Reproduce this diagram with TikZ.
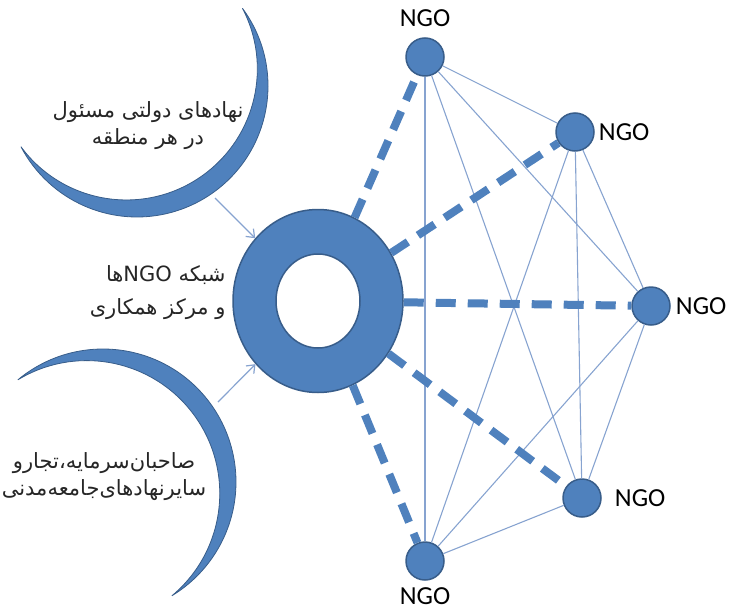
\documentclass[tikz,border=0pt]{standalone}
\usepackage{fontspec}
\usetikzlibrary{shapes.geometric,arrows.meta,positioning}
\newfontfamily\farsifont[Script=Arabic]{DejaVu Sans}
\newfontfamily\ngofont{Carlito}
\TeXXeTstate=1
\definecolor{ngoblue}{RGB}{79,129,189}
\definecolor{ngoedge}{RGB}{56,93,138}
\definecolor{linkblue}{RGB}{135,163,208}

\begin{document}
\begin{tikzpicture}[x=1pt,y=1pt,
	ngo/.style={circle,fill=ngoblue,draw=ngoedge,line width=1.5pt,minimum size=38pt,inner sep=0pt},
	ngolabel/.style={font={\ngofont\fontsize{26}{26}\selectfont},inner sep=1pt},
	hubring/.style={ellipse,fill=ngoblue,draw=ngoedge,line width=1.5pt,minimum width=170pt,minimum height=183pt,inner sep=0pt},
	moon/.style={fill=ngoblue,draw=ngoedge,line width=0.8pt},
	farsi/.style={font={\farsifont\fontsize{21}{27}\selectfont},align=center,text=black!85},
	thinlink/.style={draw=linkblue,line width=1.1pt},
	dashlink/.style={draw=ngoblue,line width=8pt,dash pattern=on 20pt off 12pt},
	feed/.style={draw=linkblue,line width=1.2pt,-{Straight Barb[length=7pt,width=11pt]}}]
		\useasboundingbox (0,0) rectangle (733,-613);
		%draw the two crescents
		\filldraw[moon] (137,-86) ++(36.4:131) arc[start angle=36.4,end angle=-152.4,radius=131]
			arc[start angle=-143.6,end angle=27.6,radius=131] -- cycle;
		\filldraw[moon] (103,-482) ++(129.8:133) arc[start angle=129.8,end angle=-58.8,radius=133]
			arc[start angle=-50.2,end angle=121.2,radius=133] -- cycle;
		\node[farsi] (gov) at (148,-126) {\beginR نهادهای دولتی مسئول\endR\\\beginR در هر منطقه\endR};
		\node[farsi] (civil) at (104,-477) {\beginR صاحبان‌سرمایه،تجارو\endR\\\beginR سایرنهادهای‌جامعه‌مدنی\endR};
		%central ring
		\node[hubring] (hub) at (318,-301) {};
		\filldraw[fill=white,draw=ngoedge,line width=1.5pt] (hub.center) ellipse [x radius=42,y radius=47];
		\node[farsi,align=right,anchor=east,font={\farsifont\fontsize{21}{33}\selectfont}] (net) at (229,-293) {\beginR شبکه \beginL NGO\endL ها\endR\\\beginR و مرکز همکاری\endR};
		%the NGO nodes
		\node[ngo,label={[ngolabel,label distance=9pt]above:NGO}] (n1) at (425,-57) {};
		\node[ngo,label={[ngolabel,label distance=3pt]right:NGO}] (n2) at (575,-132) {};
		\node[ngo,label={[ngolabel,label distance=4pt]right:NGO}] (n3) at (651,-306) {};
		\node[ngo,label={[ngolabel,label distance=12pt]right:NGO}] (n4) at (582,-498) {};
		\node[ngo,label={[ngolabel,label distance=6pt]below:NGO}] (n5) at (425,-561) {};
		%links between the NGOs
		\draw[thinlink] (n1)--(n2);
		\draw[thinlink] (n1)--(n3);
		\draw[thinlink] (n1)--(n4);
		\draw[thinlink] (n1)--(n5);
		\draw[thinlink] (n2)--(n3);
		\draw[thinlink] (n2)--(n4);
		\draw[thinlink] (n2)--(n5);
		\draw[thinlink] (n3)--(n4);
		\draw[thinlink] (n3)--(n5);
		\draw[thinlink] (n4)--(n5);
		%links from the ring
		\draw[dashlink] (hub)--(n1);
		\draw[dashlink] (hub)--(n2);
		\draw[dashlink] (hub)--(n3);
		\draw[dashlink] (hub)--(n4);
		\draw[dashlink] (hub)--(n5);
		%arrows into the ring
		\coordinate (govtip) at (215,-198);
		\coordinate (civiltip) at (218,-402);
		\draw[feed] (govtip)--(hub);
		\draw[feed] (civiltip)--(hub);
	\end{tikzpicture}
\end{document}
